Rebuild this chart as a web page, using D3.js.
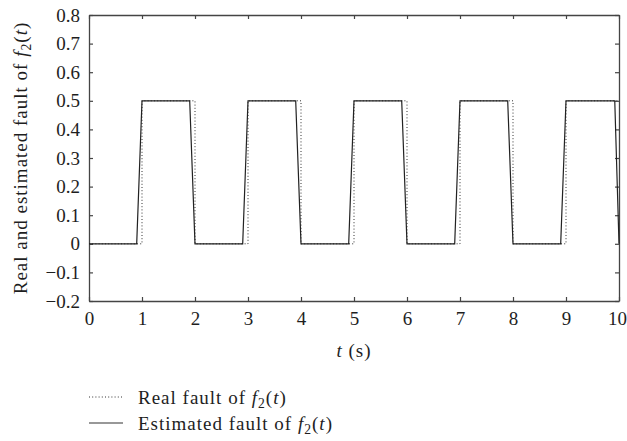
<!DOCTYPE html>
<html>
<head>
<meta charset="utf-8">
<script src="https://cdn.jsdelivr.net/npm/d3@7"></script>
<style>
  html, body { margin: 0; padding: 0; background: #fff; }
  svg { display: block; }
  svg text { font-family: "Liberation Serif", "DejaVu Serif", "Noto Serif", Times, serif !important; fill: #1e1e1e; }
</style>
</head>
<body>
<svg id="chart" width="627" height="441"></svg>
<script>
// ---- data ----
const realTime  = [0, 1, 1, 2, 2, 3, 3, 4, 4, 5, 5, 6, 6, 7, 7, 8, 8, 9, 9, 10];
const realValue = [0, 0, 0.5, 0.5, 0, 0, 0.5, 0.5, 0, 0, 0.5, 0.5, 0, 0, 0.5, 0.5, 0, 0, 0.5, 0.5];

const estTime  = [0, 0.9, 1.0, 1.9, 2.0, 2.9, 3.0, 3.9, 4.0, 4.9, 5.0, 5.9, 6.0, 6.9, 7.0, 7.9, 8.0, 8.9, 9.0, 9.92, 10];
const estValue = [0, 0, 0.5, 0.5, 0, 0, 0.5, 0.5, 0, 0, 0.5, 0.5, 0, 0, 0.5, 0.5, 0, 0, 0.5, 0.5, 0];

const xTicks = [0, 1, 2, 3, 4, 5, 6, 7, 8, 9, 10];
const yTicks = [-0.2, -0.1, 0, 0.1, 0.2, 0.3, 0.4, 0.5, 0.6, 0.7, 0.8];

// ---- layout ----
const svg = d3.select("#chart");
const L = 89, R = 619, T = 15, B = 301;
const x = d3.scaleLinear().domain([0, 10]).range([L, R]);
const y = d3.scaleLinear().domain([-0.2, 0.8]).range([B, T]);
const axisColor = "#444";
const fs = 19;
const FONT = '"Liberation Serif", "DejaVu Serif", serif';
const LS = "1px";

const fmtY = d => d === 0 ? "0" : (d < 0 ? "\u2212" + Math.abs(d).toFixed(1) : d.toFixed(1));

const gB = svg.append("g").attr("transform", `translate(0,${B})`)
  .call(d3.axisBottom(x).tickValues(xTicks).tickSizeInner(-4).tickSizeOuter(0).tickPadding(11).tickFormat(d3.format("d")));
const gT = svg.append("g").attr("transform", `translate(0,${T})`)
  .call(d3.axisTop(x).tickValues(xTicks).tickSizeInner(-4).tickSizeOuter(0).tickFormat(""));
const gL = svg.append("g").attr("transform", `translate(${L},0)`)
  .call(d3.axisLeft(y).tickValues(yTicks).tickSizeInner(-4).tickSizeOuter(0).tickPadding(9).tickFormat(fmtY));
const gR = svg.append("g").attr("transform", `translate(${R},0)`)
  .call(d3.axisRight(y).tickValues(yTicks).tickSizeInner(-4).tickSizeOuter(0).tickFormat(""));

[gB, gT, gL, gR].forEach(g => {
  g.attr("font-family", null).attr("font-size", null);
  g.selectAll("path.domain").attr("stroke", axisColor).attr("stroke-width", 1.3);
  g.selectAll(".tick line").attr("stroke", axisColor).attr("stroke-width", 1.2);
  g.selectAll(".tick text").style("font-family", FONT).style("font-size", fs + "px").attr("fill", "#1e1e1e");
});
gB.selectAll(".tick text").attr("dy", "0.71em")
  .attr("dx", d => d === xTicks[xTicks.length - 1] ? -2 : 0);

// lines
const line = d3.line().x(d => x(d[0])).y(d => y(d[1]));
const realPts = realTime.map((t, i) => [t, realValue[i]]);
const estPts = estTime.map((t, i) => [t, estValue[i]]);

svg.append("path").datum(realPts).attr("d", line)
  .attr("fill", "none").attr("stroke", "#333").attr("stroke-width", 1)
  .attr("stroke-dasharray", "1,2.2");
svg.append("path").datum(estPts).attr("d", line)
  .attr("fill", "none").attr("stroke", "#222").attr("stroke-width", 1.2);

function fLabel(sel, prefix) {
  sel.style("font-family", FONT).style("font-size", fs + "px").style("letter-spacing", LS);
  sel.append("tspan").text(prefix);
  sel.append("tspan").style("font-style", "italic").text("f");
  sel.append("tspan").style("font-size", (fs * 0.72) + "px").attr("dy", 4).text("2");
  sel.append("tspan").attr("dy", -4).text("(");
  sel.append("tspan").style("font-style", "italic").text("t");
  sel.append("tspan").text(")");
}

const yl = svg.append("text")
  .attr("transform", `translate(27,${(T + B) / 2}) rotate(-90)`)
  .attr("text-anchor", "middle");
fLabel(yl, "Real and estimated fault of ");

const xl = svg.append("text").attr("x", (L + R) / 2).attr("y", 357)
  .attr("text-anchor", "middle").style("font-family", FONT).style("font-size", fs + "px").style("letter-spacing", LS);
xl.append("tspan").style("font-style", "italic").text("t");
xl.append("tspan").text(" (s)");

const legend = [
  { label: "Real fault of ", dash: "1,2.2", y: 397 },
  { label: "Estimated fault of ", dash: null, y: 423 }
];
legend.forEach(d => {
  svg.append("line").attr("x1", 89).attr("x2", 123).attr("y1", d.y).attr("y2", d.y)
    .attr("stroke", "#333").attr("stroke-width", d.dash ? 1 : 1.2)
    .attr("stroke-dasharray", d.dash);
  const t = svg.append("text").attr("x", 138).attr("y", d.y + 7);
  fLabel(t, d.label);
});
</script>
</body>
</html>
